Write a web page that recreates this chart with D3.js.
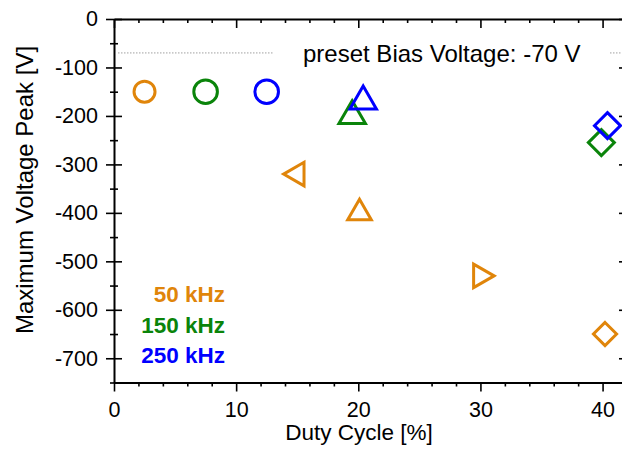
<!DOCTYPE html>
<html>
<head>
<meta charset="utf-8">
<script src="https://cdn.jsdelivr.net/npm/d3@7"></script>
<style>
  html, body { margin: 0; padding: 0; background: #fff; }
  svg { display: block; font-family: "Liberation Sans", Arial, sans-serif; }
</style>
</head>
<body>
<div id="chart"></div>
<script>
// values
const series_names = ["50 kHz", "150 kHz", "250 kHz"];
const duty_50 = [2.5, 15, 20.1, 30, 40.2];
const peak_50 = [-150, -320, -400, -530, -650];
const duty_150 = [7.5, 19.5, 39.9];
const peak_150 = [-150, -200, -255];
const duty_250 = [12.5, 20.4, 40.4];
const peak_250 = [-150, -170, -220];
const preset_bias = -70;
const x_major = [0, 10, 20, 30, 40];
const y_major = [0, -100, -200, -300, -400, -500, -600, -700];

const __CONFIG__ = {
  main_id: "chart",
  width: 622,
  height: 450,
  x_range: [114, 627],
  y_range: [19, 382.5],
  colors: ["#e0850a", "#0a840a", "#0000ff"],
  shapes: [
    ["circle", "tri_left", "tri_up", "tri_right", "diamond"],
    ["circle", "tri_up", "diamond"],
    ["circle", "tri_up", "diamond"]
  ],
  marker_scale: [0.89, 1, 1]
};

const cfg = __CONFIG__;
const svg = d3.select(`#${cfg.main_id}`).append("svg")
  .attr("width", cfg.width)
  .attr("height", cfg.height);

const x = d3.scaleLinear().domain([0, 42]).range(cfg.x_range);
const y = d3.scaleLinear().domain([0, -750]).range(cfg.y_range);

const x_minor = d3.range(0, 42.01, 2).filter(v => v % 10 != 0);
const y_minor = d3.range(-50, -751, -100);

function style_axis(g) {
  g.selectAll(".domain").attr("stroke", "#000").attr("stroke-width", 2);
  g.selectAll(".tick line").attr("stroke", "#000").attr("stroke-width", 1.6);
  g.selectAll("text").attr("fill", "#000").attr("font-size", 21.5)
    .attr("font-family", "'Liberation Sans', Arial, sans-serif");
}

// bottom axis, ticks outside
const bottom = svg.append("g").attr("transform", `translate(0,${y(-750)})`)
  .call(d3.axisBottom(x).tickValues(x_major).tickSize(9).tickPadding(10)
    .tickSizeOuter(0).tickFormat(d => String(d)));
style_axis(bottom);
svg.append("g").attr("transform", `translate(0,${y(-750)})`)
  .call(d3.axisBottom(x).tickValues(x_minor).tickSize(4).tickFormat(""))
  .call(g => g.select(".domain").remove())
  .call(style_axis);

// top axis, ticks inside
svg.append("g").attr("transform", `translate(0,${y(0)})`)
  .call(d3.axisBottom(x).tickValues(x_major).tickSize(9).tickSizeOuter(0).tickFormat(""))
  .call(style_axis);
svg.append("g").attr("transform", `translate(0,${y(0)})`)
  .call(d3.axisBottom(x).tickValues(x_minor).tickSize(4).tickFormat(""))
  .call(g => g.select(".domain").remove())
  .call(style_axis);

// left axis, ticks crossing the line
const left = svg.append("g").attr("transform", `translate(${x(0)},0)`)
  .call(d3.axisLeft(y).tickValues(y_major).tickSize(8).tickPadding(8)
    .tickSizeOuter(0).tickFormat(d => String(d)));
left.selectAll(".tick line").attr("x1", 8);
style_axis(left);
svg.append("g").attr("transform", `translate(${x(0)},0)`)
  .call(d3.axisLeft(y).tickValues(y_minor).tickSize(4).tickFormat(""))
  .call(g => g.select(".domain").remove())
  .call(g => g.selectAll(".tick line").attr("x1", 4))
  .call(style_axis);

// right axis, ticks inside
svg.append("g").attr("transform", `translate(${x(42)},0)`)
  .call(d3.axisLeft(y).tickValues(y_major).tickSize(8).tickSizeOuter(0).tickFormat(""))
  .call(style_axis);
svg.append("g").attr("transform", `translate(${x(42)},0)`)
  .call(d3.axisLeft(y).tickValues(y_minor).tickSize(4).tickFormat(""))
  .call(g => g.select(".domain").remove())
  .call(style_axis);

// axis titles
svg.append("text")
  .attr("x", 359).attr("y", 440)
  .attr("text-anchor", "middle")
  .attr("font-size", 22.5)
  .text("Duty Cycle [%]");
svg.append("text")
  .attr("transform", "translate(33,190) rotate(-90)")
  .attr("text-anchor", "middle")
  .attr("font-size", 24)
  .text("Maximum Voltage Peak [V]");

// preset bias line with its label on a white box
svg.append("line")
  .attr("x1", x(0) + 4).attr("x2", x(42) - 4)
  .attr("y1", y(preset_bias)).attr("y2", y(preset_bias))
  .attr("stroke", "#a0a0a0").attr("stroke-width", 1)
  .attr("stroke-dasharray", "1.5,1.5");
svg.append("rect")
  .attr("x", 274).attr("y", y(preset_bias) - 14)
  .attr("width", 335).attr("height", 28)
  .attr("fill", "#fff");
svg.append("text")
  .attr("x", 303).attr("y", 61.5)
  .attr("font-size", 24)
  .text(`preset Bias Voltage: ${preset_bias} V`);

// markers, triangles centred on their centroid
function marker_path(shape, k) {
  const p = d3.path();
  if (shape == "circle") {
    const r = 11.8 * k;
    p.arc(0, 0, r, 0, 2 * Math.PI);
    p.closePath();
    return p.toString();
  }
  if (shape == "diamond") {
    const h = 13 * k;
    p.moveTo(0, -h); p.lineTo(h, 0); p.lineTo(0, h); p.lineTo(-h, 0);
    p.closePath();
    return p.toString();
  }
  const s = 26.5 * k;
  const ht = s * Math.sqrt(3) / 2;
  const angle = { tri_up: 0, tri_left: -90, tri_right: 90 }[shape] * Math.PI / 180;
  const pts = [[0, -2 * ht / 3], [s / 2, ht / 3], [-s / 2, ht / 3]]
    .map(([a, b]) => [a * Math.cos(angle) - b * Math.sin(angle), a * Math.sin(angle) + b * Math.cos(angle)]);
  p.moveTo(pts[0][0], pts[0][1]);
  p.lineTo(pts[1][0], pts[1][1]);
  p.lineTo(pts[2][0], pts[2][1]);
  p.closePath();
  return p.toString();
}

const all_duty = [duty_50, duty_150, duty_250];
const all_peak = [peak_50, peak_150, peak_250];
const points = [];
all_duty.forEach((dutys, i) => {
  dutys.forEach((d, j) => {
    points.push({ series: i, duty: d, peak: all_peak[i][j], shape: cfg.shapes[i][j] });
  });
});

svg.append("g").selectAll("path.marker")
  .data(points)
  .join("path")
  .classed("marker", true)
  .attr("transform", d => `translate(${x(d.duty)},${y(d.peak)})`)
  .attr("d", d => marker_path(d.shape, cfg.marker_scale[d.series]))
  .attr("fill", "none")
  .attr("stroke", d => cfg.colors[d.series])
  .attr("stroke-width", 3)
  .attr("stroke-linejoin", "miter");

// legend
svg.append("g").selectAll("text")
  .data(series_names)
  .join("text")
  .attr("x", 225)
  .attr("y", (d, i) => 302 + i * 30.5)
  .attr("text-anchor", "end")
  .attr("font-size", 22.5)
  .attr("font-weight", "bold")
  .attr("fill", (d, i) => cfg.colors[i])
  .text(d => d);
</script>
</body>
</html>
